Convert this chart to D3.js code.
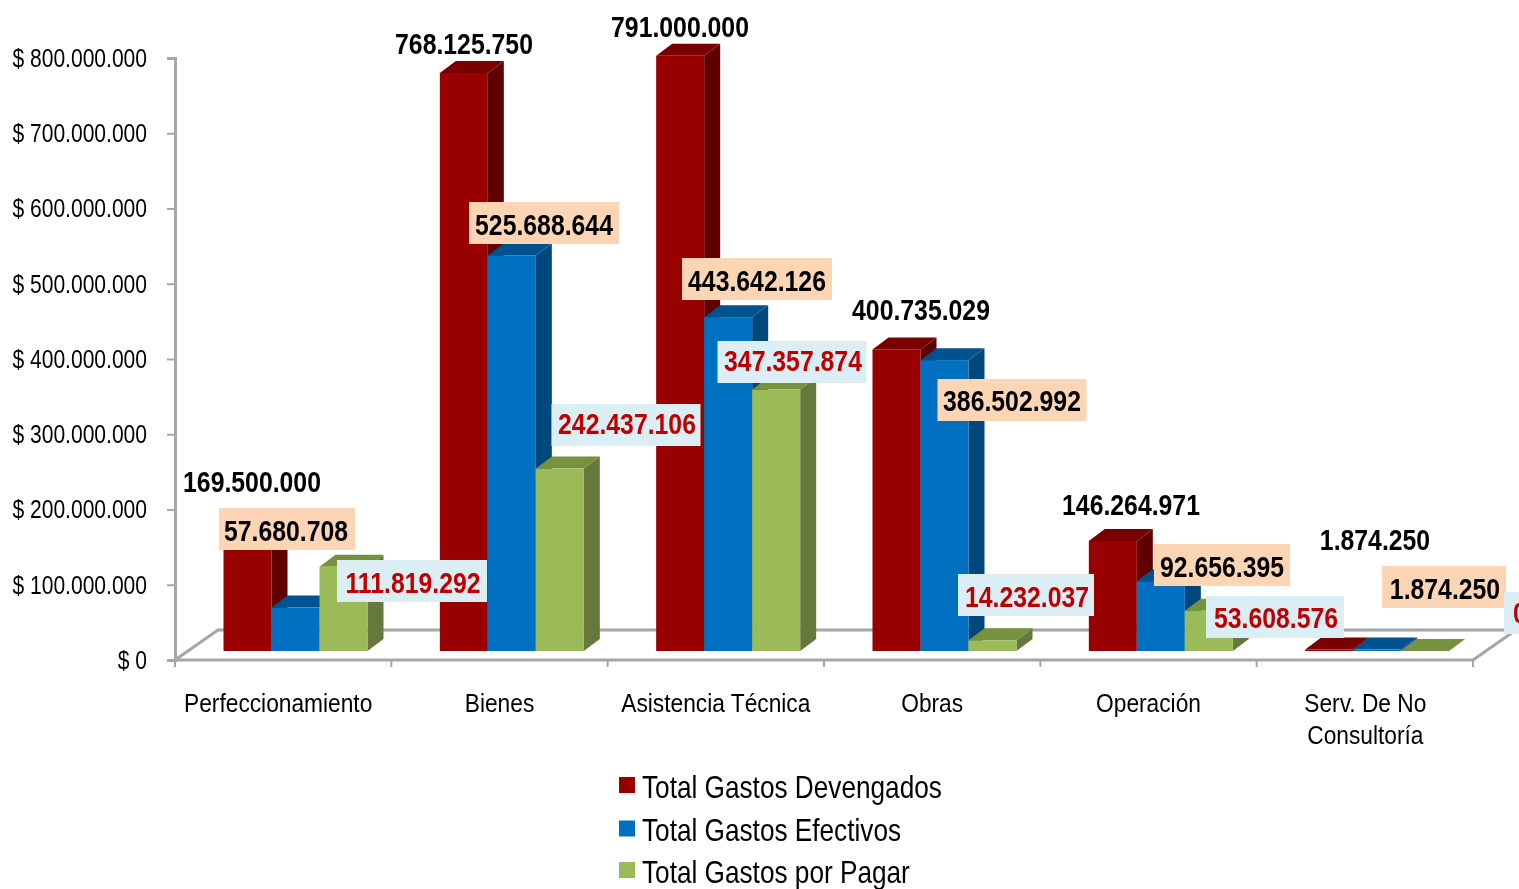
<!DOCTYPE html>
<html><head><meta charset="utf-8">
<script src="https://cdn.jsdelivr.net/npm/d3@7/dist/d3.min.js"></script>
<style>
html,body{margin:0;padding:0;background:#fff;overflow:hidden}
text{font-family:"Liberation Sans",Arial,sans-serif}
</style></head><body>
<svg id="c" width="1519" height="889"></svg>
<script>
const categories=["Perfeccionamiento","Bienes","Asistencia Técnica","Obras","Operación","Serv. De No|Consultoría"];
const seriesNames=["Total Gastos Devengados","Total Gastos Efectivos","Total Gastos por Pagar"];
const devengados=[169500000,768125750,791000000,400735029,146264971,1874250];
const efectivos=[57680708,525688644,443642126,386502992,92656395,1874250];
const porPagar=[111819292,242437106,347357874,14232037,53608576,0];
const yTicks=[0,100000000,200000000,300000000,400000000,500000000,600000000,700000000,800000000];

const faceColors=["#990000","#0070c0","#9bbb59"];
const topColors=["#7a0000","#00538f","#76923c"];
const sideColors=["#600000","#00477c","#66783a"];

// label layout: centre of each label box in page pixels, per series / category
const labelCentres=[
 [[252,483],[464,45],[680,28],[921,311],[1131,506],[1375,541]],
 [[287,529],[544,223],[757,279],[1012,400],[1222,565],[1444,587]],
 [[412,581],[626,425],[792,362],[1026,595],[1275,617],[1520,613]]
];
const boxWidths=[[0,0,0,0,0,0],[136,150,150,149,136,124],[150,149,149,136,138,32]];
const textDy=[[-1,-1,-1,-1,-1,-1],[2,2,2,1,2,2],[2,-1,-1,2,1,0]];
const textDx=[[0,0,0,0,0,0],[-1,0,0,0,0,1],[1,1,1,1,1,0]];
const catDx=[-5,0,0,0,0,0.5];
const SX={axis:0.81,cat:0.875,label:0.855,legend:0.845};

const svg=d3.select("#c");
const defs=svg.append("defs");
defs.append("filter").attr("id","soft").append("feGaussianBlur").attr("stdDeviation",0.5);
defs.append("filter").attr("id","softText").append("feGaussianBlur").attr("stdDeviation",0.3);

const margin={left:175,right:1473,top:58,bottom:660};
const depth={x:43,y:-30};         // floor depth
const barDepth={x:16,y:-12};      // bar depth
const baseShift=-9;               // bars stand this far behind the front floor edge

const y=d3.scaleLinear().domain([0,800000000]).range([margin.bottom,margin.top]);
const x=d3.scaleBand().domain(categories).range([margin.left,margin.right]);
const inner=d3.scaleBand().domain(d3.range(3)).range([48.5,192.5]);
const locale=d3.formatLocale({decimal:",",thousands:".",grouping:[3],currency:["$ ",""]});
const fmt=locale.format(",d");
const fmtCur=v=>"$ "+fmt(v);
const GRID="#a6a6a6";

function narrowText(parent,px,py,sx,str,size){
  return parent.append("text").attr("transform",`translate(${px},${py}) scale(${sx},1)`)
    .attr("font-size",size).attr("fill","#000").text(str);
}

// floor
const floor=svg.append("g").attr("filter","url(#soft)").attr("fill","none").attr("stroke",GRID).attr("stroke-width",3);
floor.append("path").attr("d",d3.line()([
 [margin.left,margin.bottom],[margin.left+depth.x,margin.bottom+depth.y],
 [margin.right+depth.x,margin.bottom+depth.y],[margin.right,margin.bottom]]));

// y axis
const ax=svg.append("g").attr("transform",`translate(${margin.left},0)`)
 .call(d3.axisLeft(y).tickValues(yTicks).tickFormat(fmtCur).tickSize(8).tickPadding(20));
ax.select(".domain").attr("stroke",GRID).attr("stroke-width",3);
ax.selectAll("line").attr("stroke",GRID).attr("stroke-width",2);
ax.selectAll("text").attr("font-size",26).attr("fill","#000").attr("dy","0.32em")
  .attr("filter","url(#softText)")
  .attr("x",-28/SX.axis).attr("transform",`scale(${SX.axis},1)`);

// x axis
const xEdges=[...categories.map(c=>x(c)),margin.right];
const xa=svg.append("g");
xa.append("line").attr("x1",margin.left).attr("x2",margin.right).attr("y1",margin.bottom).attr("y2",margin.bottom)
  .attr("stroke",GRID).attr("stroke-width",3);
xa.selectAll(".t").data(xEdges).join("line").attr("x1",d=>d).attr("x2",d=>d)
  .attr("y1",margin.bottom).attr("y2",margin.bottom+7).attr("stroke",GRID).attr("stroke-width",2);
const catG=xa.append("g").attr("filter","url(#softText)");
categories.forEach((c,i)=>{
  c.split("|").forEach((ln,j)=>narrowText(catG,x(c)+x.bandwidth()/2+catDx[i],712+j*32,SX.cat,ln,26).attr("text-anchor","middle"));
});

// bars
const data=[devengados,efectivos,porPagar];
const bars=svg.append("g").attr("filter","url(#soft)");
categories.forEach((c,ci)=>{
  [0,1,2].forEach(si=>{
    const v=data[si][ci];
    const x0=x(c)+inner(si), w=inner.bandwidth(), x1=x0+w;
    const yb=y(0)+baseShift, yt=y(v)+baseShift;
    const g=bars.append("g");
    g.append("polygon").attr("fill",sideColors[si])
      .attr("points",[[x1,yb],[x1+barDepth.x,yb+barDepth.y],[x1+barDepth.x,yt+barDepth.y],[x1,yt]].join(" "));
    g.append("polygon").attr("fill",topColors[si])
      .attr("points",[[x0,yt],[x0+barDepth.x,yt+barDepth.y],[x1+barDepth.x,yt+barDepth.y],[x1,yt]].join(" "));
    g.append("rect").attr("fill",faceColors[si]).attr("x",x0).attr("width",w).attr("y",yt).attr("height",yb-yt);
  });
});

// data labels
const boxFill=[null,"#fcd5b5","#dbeef4"], textFill=["#000","#000","#c00000"];
[0,1,2].forEach(si=>{
  categories.forEach((c,ci)=>{
    const [cx,cy]=labelCentres[si][ci];
    const g=svg.append("g");
    if(boxFill[si]) g.append("rect").attr("x",cx-boxWidths[si][ci]/2).attr("y",cy-21)
       .attr("width",boxWidths[si][ci]).attr("height",42).attr("fill",boxFill[si]);
    narrowText(g,cx+textDx[si][ci],cy+textDy[si][ci],SX.label,fmt(data[si][ci]),29).attr("dy","0.36em").attr("text-anchor","middle")
      .attr("font-weight","bold").attr("fill",textFill[si]).attr("filter","url(#softText)");
  });
});

// legend
const legY=d3.scalePoint().domain(seriesNames).range([787,872]);
const lg=svg.append("g");
seriesNames.forEach((s,i)=>{
  lg.append("rect").attr("x",619).attr("y",legY(s)-10+(i==1?1:0)).attr("width",16).attr("height",16).attr("fill",faceColors[i]);
  narrowText(lg,642,legY(s),SX.legend,s,31).attr("dy","0.36em").attr("filter","url(#softText)");
});
</script></body></html>
